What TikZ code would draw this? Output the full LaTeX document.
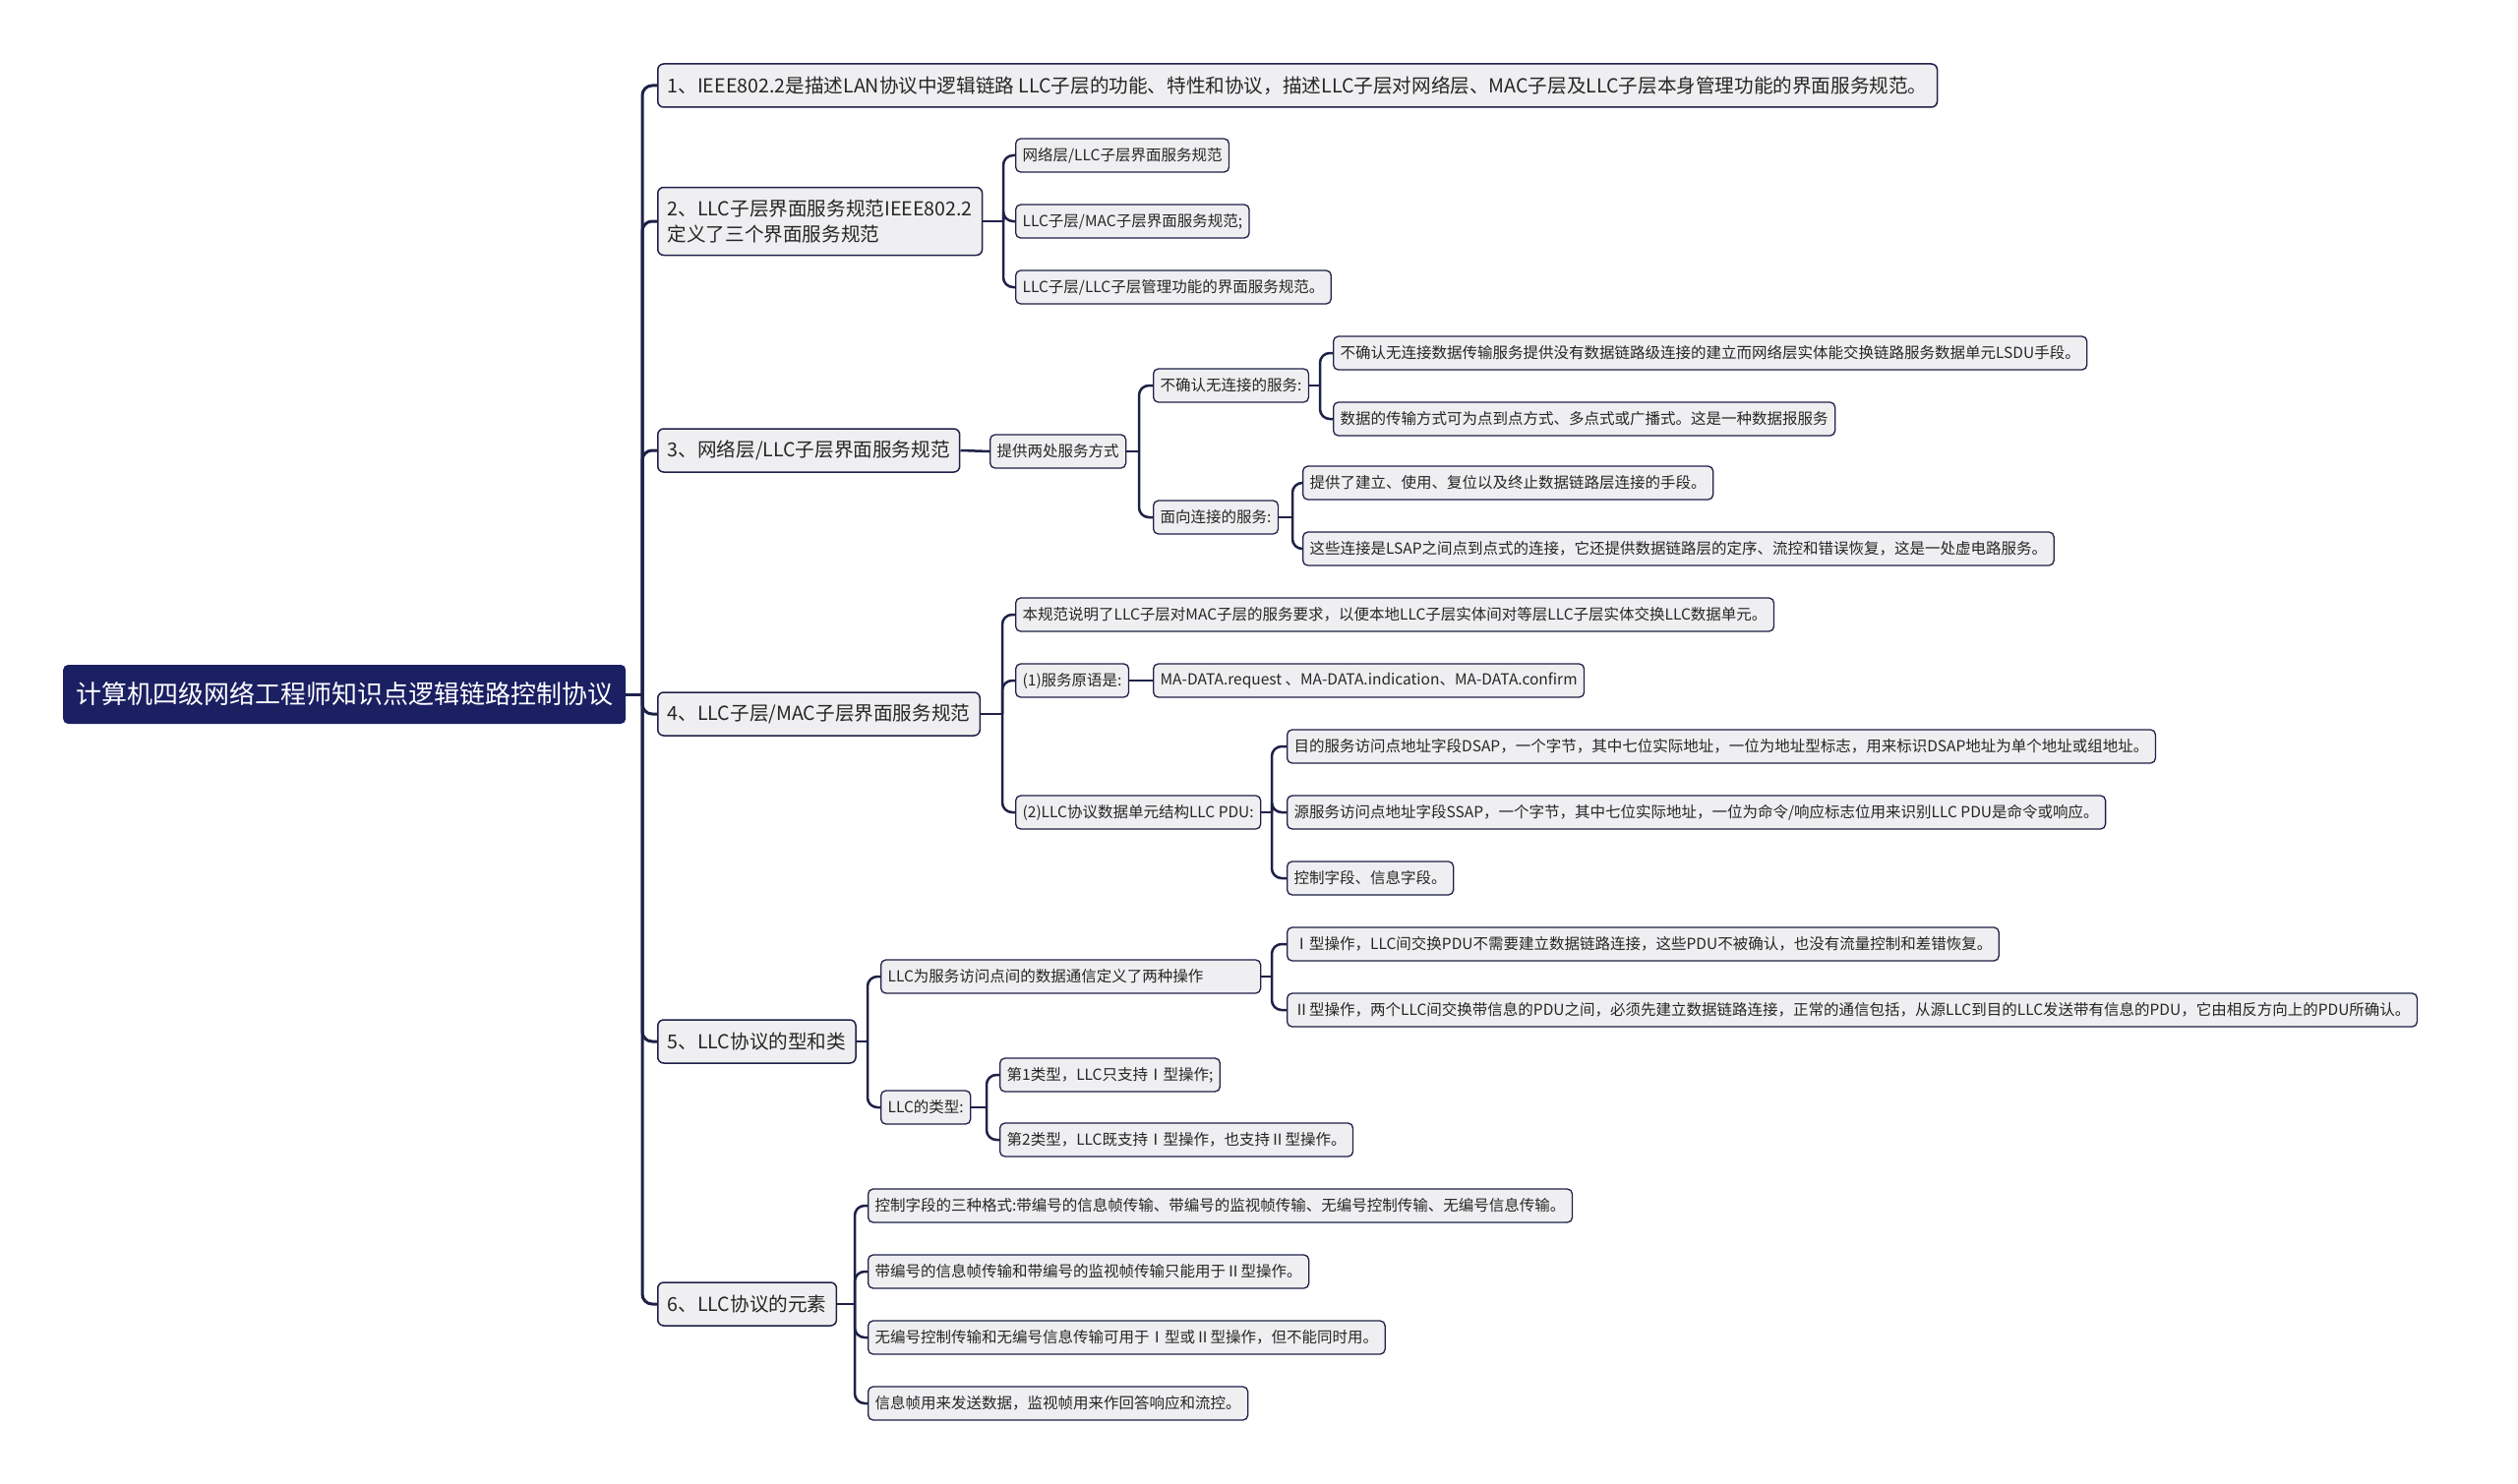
\documentclass[tikz,border=0pt]{standalone}
\usepackage{fontspec}
\setmainfont{Noto Sans CJK SC}
\usepackage{tikz}
\usetikzlibrary{calc}
\definecolor{navy}{HTML}{1B2063}
\definecolor{linenavy}{HTML}{1E2148}
\definecolor{boxgray}{HTML}{EFEFF1}

\tikzset{
  rootbox/.style={fill=navy, text=white, rounded corners=5pt, anchor=west,
    minimum height=60pt, inner xsep=13pt, font=\fontsize{26}{30}\selectfont},
  topic/.style={draw=linenavy, fill=boxgray, line width=1.5pt, rounded corners=6pt,
    anchor=west, minimum height=44pt, inner xsep=10pt, text=black!85,
    font=\fontsize{19.6}{26}\selectfont},
  leaf/.style={draw=linenavy, fill=boxgray, line width=1.3pt, rounded corners=5pt,
    anchor=west, minimum height=34pt, inner xsep=7pt, text=black!85,
    font=\fontsize{15.5}{18}\selectfont},
  link/.style={draw=linenavy, line width=2.5pt, rounded corners=10pt},
}

\begin{document}
\begin{tikzpicture}[x=1pt,y=-1pt]
\useasboundingbox (0,0) rectangle (2560,1509);

\node[rootbox] (r) at (64,706) {计算机四级网络工程师知识点逻辑链路控制协议};

\node[topic] (s1) at (668,87) {1、IEEE802.2是描述LAN协议中逻辑链路 LLC子层的功能、特性和协议，描述LLC子层对网络层、MAC子层及LLC子层本身管理功能的界面服务规范。};
\node[topic, align=left, minimum height=69pt] (s2) at (668,225) {2、LLC子层界面服务规范IEEE802.2\\定义了三个界面服务规范};
\node[topic] (s3) at (668,458) {3、网络层/LLC子层界面服务规范};
\node[topic] (s4) at (668,726) {4、LLC子层/MAC子层界面服务规范};
\node[topic] (s5) at (668,1059) {5、LLC协议的型和类};
\node[topic] (s6) at (668,1326) {6、LLC协议的元素};

% branch 2
\node[leaf] (s21) at (1032,158) {网络层/LLC子层界面服务规范};
\node[leaf] (s22) at (1032,225) {LLC子层/MAC子层界面服务规范;};
\node[leaf] (s23) at (1032,292) {LLC子层/LLC子层管理功能的界面服务规范。};

% branch 3
\node[leaf] (s31) at (1006,459) {提供两处服务方式};
\node[leaf] (s311) at (1172,392) {不确认无连接的服务:};
\node[leaf] (s312) at (1172,526) {面向连接的服务:};
\node[leaf] (s3111) at (1355,359) {不确认无连接数据传输服务提供没有数据链路级连接的建立而网络层实体能交换链路服务数据单元LSDU手段。};
\node[leaf] (s3112) at (1355,426) {数据的传输方式可为点到点方式、多点式或广播式。这是一种数据报服务};
\node[leaf] (s3121) at (1324,491) {提供了建立、使用、复位以及终止数据链路层连接的手段。};
\node[leaf] (s3122) at (1324,558) {这些连接是LSAP之间点到点式的连接，它还提供数据链路层的定序、流控和错误恢复，这是一处虚电路服务。};

% branch 4
\node[leaf] (s41) at (1032,625) {本规范说明了LLC子层对MAC子层的服务要求，以便本地LLC子层实体间对等层LLC子层实体交换LLC数据单元。};
\node[leaf] (s42) at (1032,692) {(1)服务原语是:};
\node[leaf] (s421) at (1172,692) {MA-DATA.request 、MA-DATA.indication、MA-DATA.confirm};
\node[leaf] (s43) at (1032,826) {(2)LLC协议数据单元结构LLC PDU:};
\node[leaf] (s431) at (1308,759) {目的服务访问点地址字段DSAP，一个字节，其中七位实际地址，一位为地址型标志，用来标识DSAP地址为单个地址或组地址。};
\node[leaf] (s432) at (1308,826) {源服务访问点地址字段SSAP，一个字节，其中七位实际地址，一位为命令/响应标志位用来识别LLC PDU是命令或响应。};
\node[leaf] (s433) at (1308,893) {控制字段、信息字段。};

% branch 5
\node[leaf, text width=372pt, align=left] (s51) at (895,993) {LLC为服务访问点间的数据通信定义了两种操作};
\node[leaf] (s52) at (895,1126) {LLC的类型:};
\node[leaf] (s511) at (1308,960) {Ⅰ型操作，LLC间交换PDU不需要建立数据链路连接，这些PDU不被确认，也没有流量控制和差错恢复。};
\node[leaf] (s512) at (1308,1027) {Ⅱ型操作，两个LLC间交换带信息的PDU之间，必须先建立数据链路连接，正常的通信包括，从源LLC到目的LLC发送带有信息的PDU，它由相反方向上的PDU所确认。};
\node[leaf] (s521) at (1016,1093) {第1类型，LLC只支持Ⅰ型操作;};
\node[leaf] (s522) at (1016,1159) {第2类型，LLC既支持Ⅰ型操作，也支持Ⅱ型操作。};

% branch 6
\node[leaf] (s61) at (882,1226) {控制字段的三种格式:带编号的信息帧传输、带编号的监视帧传输、无编号控制传输、无编号信息传输。};
\node[leaf] (s62) at (882,1293) {带编号的信息帧传输和带编号的监视帧传输只能用于Ⅱ型操作。};
\node[leaf] (s63) at (882,1360) {无编号控制传输和无编号信息传输可用于Ⅰ型或Ⅱ型操作，但不能同时用。};
\node[leaf] (s64) at (882,1427) {信息帧用来发送数据，监视帧用来作回答响应和流控。};

% junctions
\coordinate (j0) at (653,706);
\coordinate (j2) at (1020,225);
\coordinate (j31) at (1158,459);
\coordinate (j311) at (1342,392);
\coordinate (j312) at (1314,526);
\coordinate (j4) at (1019,726);
\coordinate (j43) at (1293,826);
\coordinate (j5) at (882,1059);
\coordinate (j51) at (1293,993);
\coordinate (j52) at (1003,1126);
\coordinate (j6) at (869,1326);

% connectors
\draw[link, line width=3pt] (r.east) -- (j0);
\foreach \c in {s1,s2,s3,s4,s5,s6}
  \draw[link, line width=3pt] (j0) |- (\c.west);

\draw[link] (s2.east) -- (j2);
\foreach \c in {s21,s22,s23} \draw[link] (j2) |- (\c.west);

\draw[link] (s3.east) -- (s31.west);
\draw[link] (s31.east) -- (j31);
\foreach \c in {s311,s312} \draw[link] (j31) |- (\c.west);
\draw[link] (s311.east) -- (j311);
\foreach \c in {s3111,s3112} \draw[link] (j311) |- (\c.west);
\draw[link] (s312.east) -- (j312);
\foreach \c in {s3121,s3122} \draw[link] (j312) |- (\c.west);

\draw[link] (s4.east) -- (j4);
\foreach \c in {s41,s42,s43} \draw[link] (j4) |- (\c.west);
\draw[link] (s42.east) -- (s421.west);
\draw[link] (s43.east) -- (j43);
\foreach \c in {s431,s432,s433} \draw[link] (j43) |- (\c.west);

\draw[link] (s5.east) -- (j5);
\foreach \c in {s51,s52} \draw[link] (j5) |- (\c.west);
\draw[link] (s51.east) -- (j51);
\foreach \c in {s511,s512} \draw[link] (j51) |- (\c.west);
\draw[link] (s52.east) -- (j52);
\foreach \c in {s521,s522} \draw[link] (j52) |- (\c.west);

\draw[link] (s6.east) -- (j6);
\foreach \c in {s61,s62,s63,s64} \draw[link] (j6) |- (\c.west);

\end{tikzpicture}
\end{document}
